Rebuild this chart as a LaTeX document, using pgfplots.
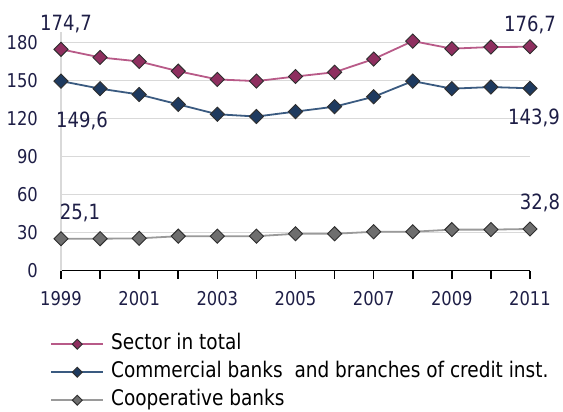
\documentclass[border=0pt]{standalone}
\usepackage{fontspec}
\setmainfont{DejaVu Sans}[FakeStretch=0.86]
\usepackage{pgfplots}
\pgfplotsset{compat=1.18}
\definecolor{sectorfill}{HTML}{8E2F5F}
\definecolor{sectorline}{HTML}{B85A88}
\definecolor{commfill}{HTML}{1E3A5F}
\definecolor{commline}{HTML}{3A5A80}
\definecolor{coopfill}{HTML}{6E6E6E}
\definecolor{coopline}{HTML}{9A9A9A}
\definecolor{txt}{HTML}{1E1E46}
\definecolor{gridc}{HTML}{D9D9D9}
\definecolor{edge}{HTML}{2E2E2E}
\begin{document}
\fontsize{19bp}{23bp}\selectfont
\begin{tikzpicture}
\path[use as bounding box] (-61bp,-141.5bp) rectangle (502bp,270.5bp);
\begin{axis}[
  scale only axis, width=469bp, height=238.8bp,
  xmin=1999, xmax=2011, ymin=0, ymax=188.6,
  clip=false,
  axis x line*=bottom, axis y line*=left,
  x axis line style={-, black, line width=1.8bp},
  y axis line style={-, gridc, line width=1.4bp},
  ytick={0,30,60,90,120,150,180},
  yticklabels={0,30,60,90,120,150,180},
  ymajorgrids, grid style={gridc, line width=1.4bp},
  ytick style={draw=none},
  xtick={1999,2000,2001,2002,2003,2004,2005,2006,2007,2008,2009,2010,2011},
  xticklabels={1999,,2001,,2003,,2005,,2007,,2009,,2011},
  tick align=outside, major tick length=8bp,
  xtick style={black, line width=1.6bp},
  x tick label style={txt, anchor=north, inner sep=0pt, yshift=-13bp},
  y tick label style={txt, anchor=east, inner sep=0pt, xshift=-15bp},
  legend image code/.code={
    \draw[mark repeat=2, mark phase=2, #1, line width=2.2bp, every mark/.append style={scale=0.7}]
      plot coordinates {(0bp,0bp) (26bp,0bp) (52bp,0bp)};
    \path (59bp,0bp);
  },
  legend cell align=left,
  legend style={at={(rel axis cs:-0.0235,-0.2701)}, anchor=north west,
    draw=none, fill=none, inner sep=0pt, row sep=10bp,
    font=\fontsize{21.5bp}{25bp}\selectfont,
    nodes={inner sep=0pt, text height=14bp, text depth=4bp, text=black}},
]
\addplot[sectorline, line width=1.8bp, mark=square*, mark size=5bp,
  mark options={rotate=45, fill=sectorfill, draw=edge, line width=0.9bp, solid}]
  coordinates {(1999,174.7) (2000,168.3) (2001,165.1) (2002,157.4) (2003,150.9)
  (2004,149.6) (2005,153.2) (2006,156.6) (2007,167.0) (2008,181.2) (2009,175.2)
  (2010,176.5) (2011,176.7)};
\addlegendentry{Sector in total}
\addplot[commline, line width=1.8bp, mark=square*, mark size=5bp,
  mark options={rotate=45, fill=commfill, draw=edge, line width=0.9bp, solid}]
  coordinates {(1999,149.6) (2000,143.6) (2001,139.0) (2002,131.2) (2003,123.4)
  (2004,121.6) (2005,125.5) (2006,129.4) (2007,137.2) (2008,149.6) (2009,143.6)
  (2010,144.9) (2011,143.9)};
\addlegendentry{Commercial banks\ \ and branches of credit inst.}
\addplot[coopline, line width=1.8bp, mark=square*, mark size=5bp,
  mark options={rotate=45, fill=coopfill, draw=edge, line width=0.9bp, solid}]
  coordinates {(1999,25.1) (2000,25.1) (2001,25.4) (2002,27.1) (2003,27.1)
  (2004,27.1) (2005,29.0) (2006,29.0) (2007,30.6) (2008,30.6) (2009,32.3)
  (2010,32.3) (2011,32.8)};
\addlegendentry{Cooperative banks}
\tikzset{dl/.style={txt, anchor=base, font=\fontsize{21bp}{25bp}\selectfont}}
\node[dl, xshift=5bp, yshift=19.3bp] at (axis cs:1999,174.7) {174,7};
\node[dl, xshift=21bp, yshift=-46.9bp] at (axis cs:1999,149.6) {149,6};
\node[dl, xshift=0bp, yshift=15bp] at (axis cs:2011,176.7) {176,7};
\node[dl, xshift=4bp, yshift=-36.7bp] at (axis cs:2011,143.9) {143,9};
\node[dl, xshift=19bp, yshift=19.2bp] at (axis cs:1999,25.1) {25,1};
\node[dl, xshift=10bp, yshift=19.7bp] at (axis cs:2011,32.8) {32,8};
\end{axis}
\end{tikzpicture}
\end{document}
